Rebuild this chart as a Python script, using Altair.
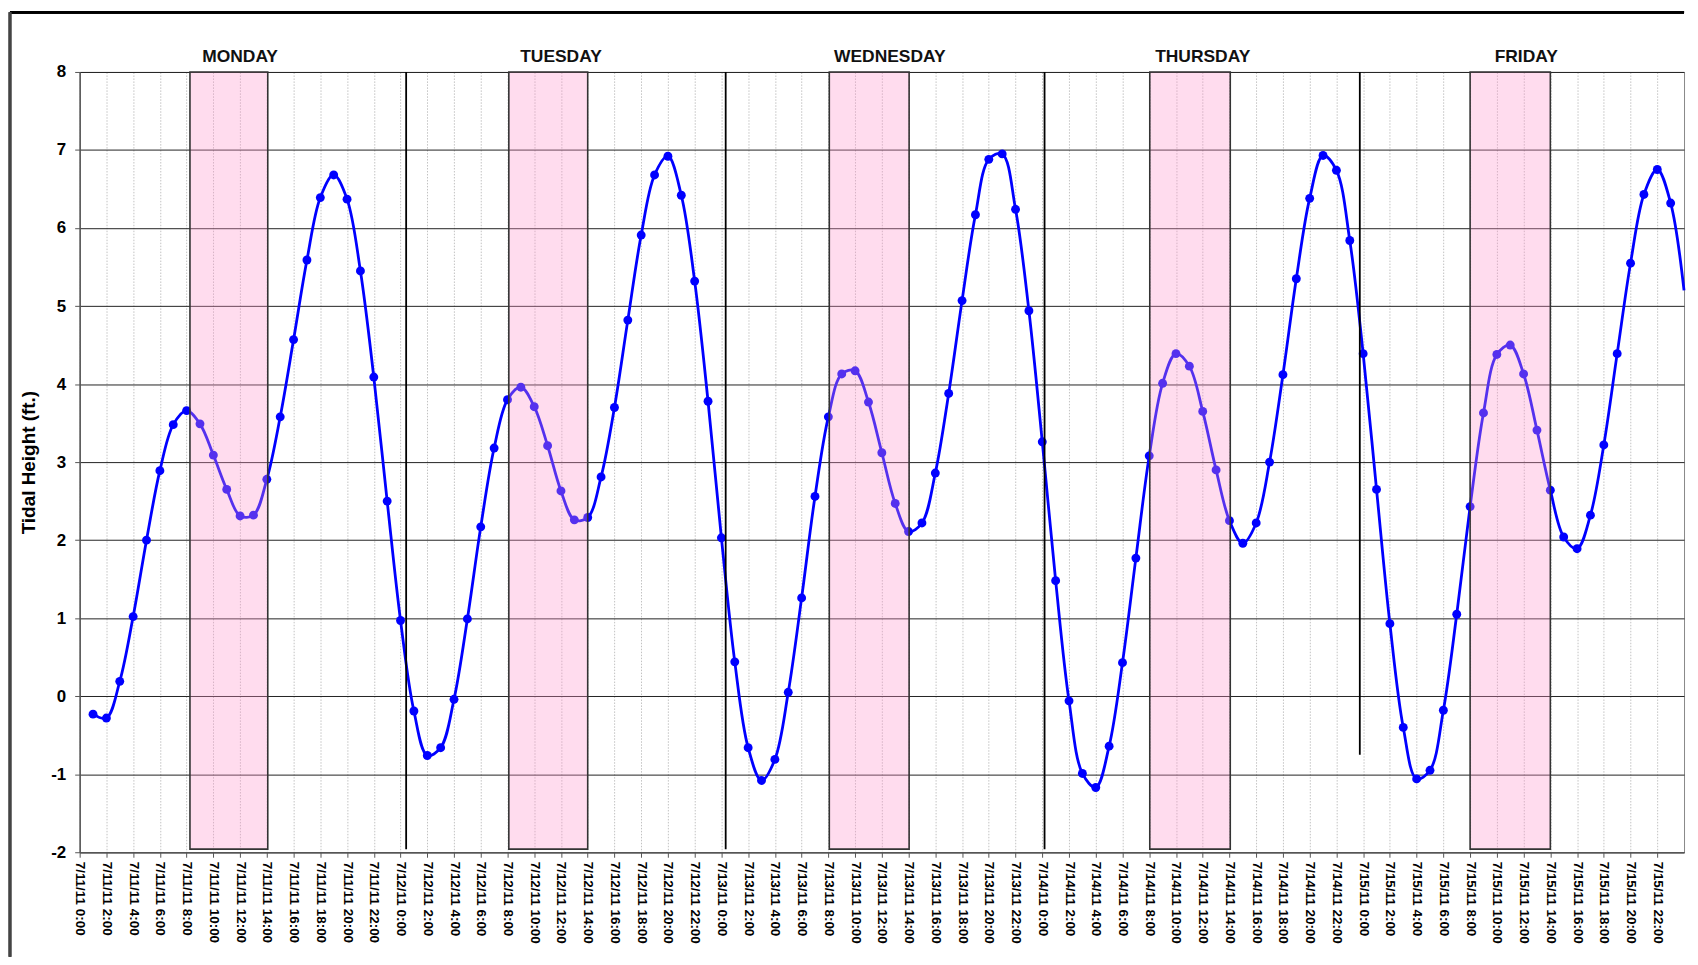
import altair as alt
import pandas as pd

# hourly observations, hour index counted from 7/11/11 0:00
hours = list(range(1, 121))
heights = [
    # 7/11
    -0.23, -0.28, 0.19, 1.02, 2.00, 2.89, 3.48, 3.66, 3.49, 3.09, 2.65, 2.31,
    2.32, 2.78, 3.58, 4.57, 5.59, 6.39, 6.68, 6.37, 5.45, 4.09, 2.50, 0.97,
    # 7/12
    -0.19, -0.76, -0.66, -0.04, 0.99, 2.17, 3.18, 3.80, 3.96, 3.71, 3.21, 2.63,
    2.26, 2.29, 2.81, 3.70, 4.82, 5.91, 6.68, 6.92, 6.42, 5.32, 3.78, 2.03,
    # 7/13
    0.44, -0.66, -1.08, -0.81, 0.05, 1.26, 2.56, 3.58, 4.13, 4.17, 3.77, 3.12,
    2.47, 2.11, 2.22, 2.86, 3.88, 5.07, 6.17, 6.88, 6.95, 6.24, 4.94, 3.26,
    # 7/14
    1.48, -0.06, -0.99, -1.17, -0.64, 0.43, 1.77, 3.08, 4.01, 4.39, 4.23, 3.65,
    2.90, 2.25, 1.96, 2.22, 3.00, 4.12, 5.35, 6.38, 6.93, 6.74, 5.84, 4.39,
    # 7/15
    2.65, 0.93, -0.40, -1.06, -0.95, -0.18, 1.05, 2.43, 3.63, 4.38, 4.50, 4.13,
    3.41, 2.64, 2.04, 1.89, 2.32, 3.22, 4.39, 5.55, 6.43, 6.75, 6.32, 5.20,
]

day_names = ["MONDAY", "TUESDAY", "WEDNESDAY", "THURSDAY", "FRIDAY"]
day_label_hour = [12.0, 36.0, 60.6, 84.0, 108.2]
shade_start = [8.25, 32.1, 56.07, 80.04, 104.0]
shade_end = [14.07, 38.0, 62.04, 86.06, 110.0]
shade_top = [8, 8, 8, 8, 8]
shade_bottom = [-1.96, -1.96, -1.96, -1.96, -1.96]
sep_hour = [24.42, 48.32, 72.17, 95.75]
sep_top = [8, 8, 8, 8]
sep_bottom = [-1.96, -1.96, -1.96, -0.75]
x_tick_values = list(range(0, 120, 2))
y_tick_values = list(range(-2, 9))

W, H = 1612, 784
FONT = "Liberation Sans"

tide = pd.DataFrame({"h": hours, "v": heights})
shade = pd.DataFrame({"s": shade_start, "e": shade_end, "t": shade_top, "b": shade_bottom})
seps = pd.DataFrame({"h": sep_hour, "t": sep_top, "b": sep_bottom})
days = pd.DataFrame({"name": day_names, "h": day_label_hour})

xscale = alt.Scale(domain=[0, 120], nice=False, zero=False)
yscale = alt.Scale(domain=[-2, 8], nice=False, zero=False)

label_expr = "'7/' + (11 + floor(datum.value / 24)) + '/11 ' + (datum.value % 24) + ':00'"

xaxis = alt.Axis(
    values=x_tick_values, labelExpr=label_expr, title=None,
    labelAngle=90, labelFont=FONT, labelFontWeight="bold", labelFontSize=13.5,
    labelColor="black", labelPadding=4, labelOverlap=False, labelFlush=False,
    labelLimit=200,
    grid=True, gridColor="#c2c2c2", gridDash=[1.5, 1.5], gridWidth=1,
    tickColor="#555", tickSize=5, domainColor="#555", domainWidth=1.5,
)
yaxis = alt.Axis(
    values=y_tick_values, labelExpr="'' + round(datum.value)", title="Tidal Height (ft.)",
    labelFont=FONT, labelFontWeight="bold", labelFontSize=17, labelColor="black",
    labelPadding=9, labelOverlap=False, labelFlush=False,
    grid=True, gridColor="#222222", gridWidth=1,
    tickColor="#555", tickSize=5, domainColor="#555", domainWidth=1.5,
    titleFont=FONT, titleFontWeight="bold", titleFontSize=19, titleColor="black",
    titlePadding=12,
)

line = alt.Chart(tide).mark_line(
    color="#0000ff", strokeWidth=2.8, interpolate="catmull-rom"
).encode(
    x=alt.X("h:Q", scale=xscale, axis=xaxis),
    y=alt.Y("v:Q", scale=yscale, axis=yaxis),
)

points = alt.Chart(tide).transform_filter("datum.h < 120").mark_circle(
    color="#0000ff", opacity=1, size=80
).encode(
    x=alt.X("h:Q", scale=xscale, axis=xaxis),
    y=alt.Y("v:Q", scale=yscale, axis=yaxis),
)

rects = alt.Chart(shade).mark_rect(
    fill="#ff95cb", fillOpacity=0.33, stroke="#333333", strokeWidth=1.6, strokeOpacity=1
).encode(
    x=alt.X("s:Q", scale=xscale, axis=xaxis), x2="e:Q",
    y=alt.Y("t:Q", scale=yscale, axis=yaxis), y2="b:Q",
)

rules = alt.Chart(seps).mark_rule(color="black", strokeWidth=1.8).encode(
    x=alt.X("h:Q", scale=xscale, axis=xaxis),
    y=alt.Y("t:Q", scale=yscale, axis=yaxis), y2="b:Q",
)

labels = alt.Chart(days).mark_text(
    font=FONT, fontWeight="bold", fontSize=17.5, color="#111", baseline="middle", align="center"
).encode(
    x=alt.X("h:Q", scale=xscale, axis=xaxis), y=alt.value(-15), text="name:N",
)

frame_top = alt.Chart(days).mark_rule(color="black", strokeWidth=2.5).encode(
    x=alt.value(-70), x2=alt.value(W), y=alt.value(-60)
)
frame_left = alt.Chart(days).mark_rule(color="#444", strokeWidth=2.5).encode(
    x=alt.value(-70), y=alt.value(-60), y2=alt.value(H + 105)
)

chart = alt.layer(line, points, rects, rules, labels, frame_top, frame_left).properties(
    width=W, height=H, background="white",
    padding={"left": 0, "top": 0, "right": 0, "bottom": 0},
).configure_view(stroke="#888", strokeWidth=1)

chart.save("out.html", embed_options={"renderer": "svg", "actions": False})
